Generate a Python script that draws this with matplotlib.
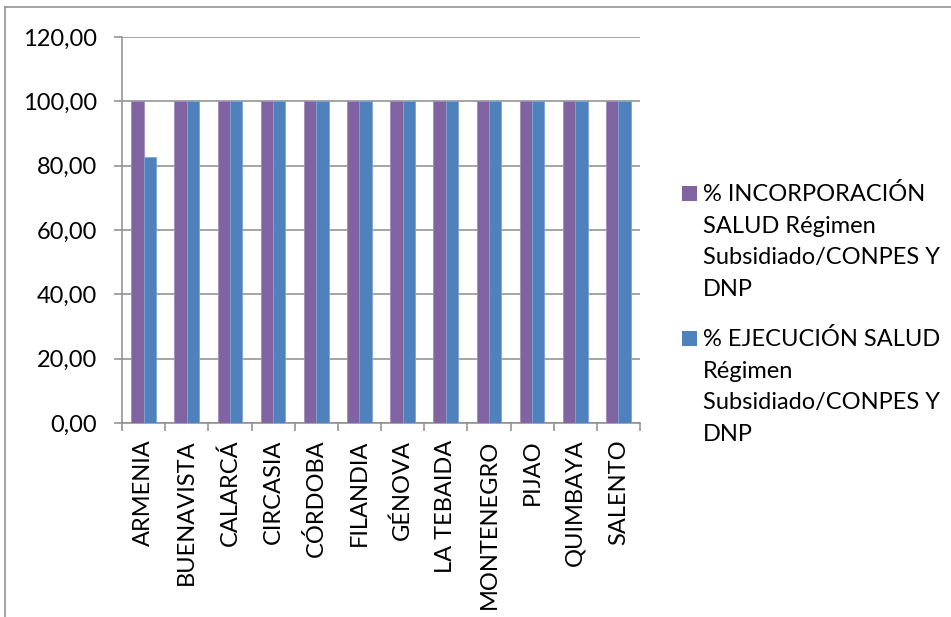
import matplotlib
matplotlib.use("Agg")
import matplotlib.pyplot as plt
from matplotlib.patches import Rectangle
from matplotlib.lines import Line2D
from matplotlib.ticker import FixedLocator, FuncFormatter
import numpy as np

categories = ["ARMENIA", "BUENAVISTA", "CALARCÁ", "CIRCASIA", "CÓRDOBA", "FILANDIA",
              "GÉNOVA", "LA TEBAIDA", "MONTENEGRO", "PIJAO", "QUIMBAYA", "SALENTO"]
incorporacion = [100, 100, 100, 100, 100, 100, 100, 100, 100, 100, 100, 100]
ejecucion = [82.6, 100, 100, 100, 100, 100, 100, 100, 100, 100, 100, 100]
series_labels = [
    "% INCORPORACIÓN\nSALUD Régimen\nSubsidiado/CONPES Y\nDNP",
    "% EJECUCIÓN SALUD\nRégimen\nSubsidiado/CONPES Y\nDNP",
]
colors = ["#8064A2", "#4F81BD"]
edge_colors = ["#A28BC0", "#7FA3D3"]

W, H = 951, 617
FS = 17
plt.rcParams['font.family'] = ['Lato', 'DejaVu Sans']

fig = plt.figure(figsize=(W / 100, H / 100), dpi=100)
ax = fig.add_axes([122 / W, (H - 423) / H, (640 - 122) / W, (423 - 37) / H])

x = np.arange(len(categories))
bw = 0.285
ax.bar(x - bw / 2, incorporacion, bw, color=colors[0], edgecolor=edge_colors[0], linewidth=0.6, zorder=3)
ax.bar(x + bw / 2, ejecucion, bw, color=colors[1], edgecolor=edge_colors[1], linewidth=0.6, zorder=3)

ax.set_xlim(-0.5, len(categories) - 0.5)
ax.set_ylim(0, 120)
ax.set_yticks(np.arange(0, 121, 20))
ax.yaxis.set_major_formatter(FuncFormatter(lambda v, p: f"{v:.2f}".replace(".", ",")))
ax.yaxis.grid(True, color="#8C8C8C", linewidth=1.1, zorder=0)
ax.set_axisbelow(True)

ax.set_xticks(x)
ax.set_xticklabels(categories, rotation=90, fontsize=FS, va="top")
ax.xaxis.set_minor_locator(FixedLocator(np.arange(-0.5, len(categories), 1.0)))
ax.tick_params(axis="x", which="major", length=0, pad=12)
ax.tick_params(axis="x", which="minor", length=5.8, width=1.1, color="#8C8C8C", direction="out")
ax.tick_params(axis="y", which="major", length=5.8, width=1.1, color="#8C8C8C", pad=12, labelsize=FS)

for s in ["top", "right"]:
    ax.spines[s].set_visible(False)
for s in ["left", "bottom"]:
    ax.spines[s].set_color("#8C8C8C")
    ax.spines[s].set_linewidth(1.1)

# Legend drawn manually
leg_tops = [186, 331]
for lab, col, top in zip(series_labels, colors, leg_tops):
    fig.add_artist(Rectangle((682 / W, (H - top - 15) / H), 15 / W, 15 / H,
                             transform=fig.transFigure, facecolor=col, edgecolor="none"))
    fig.text(703 / W, (H - top + 3) / H, lab, fontsize=FS, ha="left", va="top",
             linespacing=1.62, color="black")

# Outer chart border (cropped)
fig.add_artist(Line2D([5 / W, 5 / W], [0, (H - 7) / H], transform=fig.transFigure,
                      color="#8C8C8C", linewidth=1.1))
fig.add_artist(Line2D([5 / W, 1], [(H - 7) / H, (H - 7) / H], transform=fig.transFigure,
                      color="#8C8C8C", linewidth=1.1))

fig.savefig("out.png", dpi=100)
